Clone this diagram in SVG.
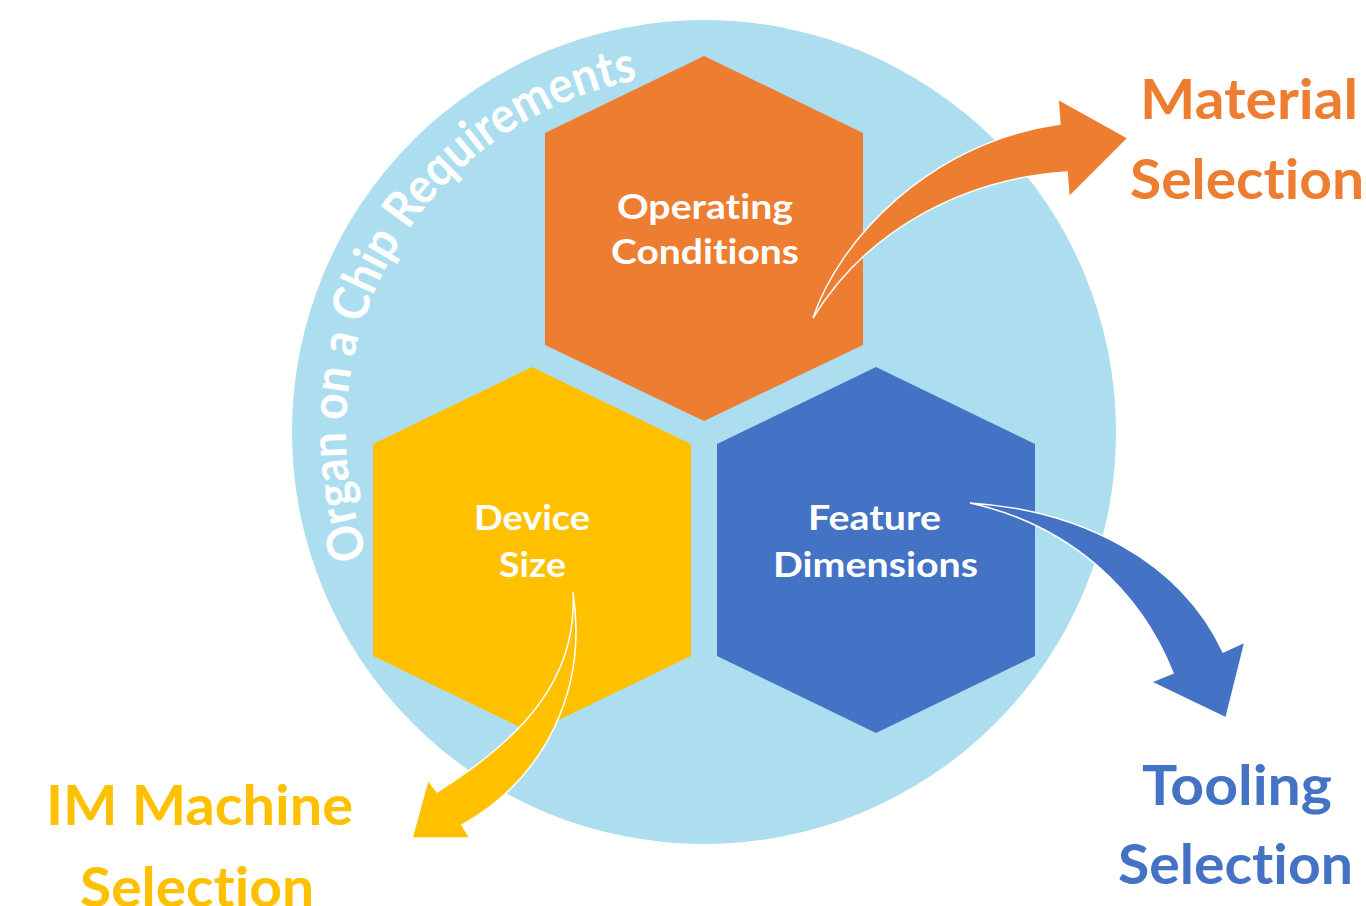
<svg xmlns="http://www.w3.org/2000/svg" width="1366" height="906" viewBox="0 0 1366 906">
<defs>
<style>
text{font-variant-ligatures:none;font-feature-settings:"liga" 0,"clig" 0}
.hex-label{font-family:Lato,"Open Sans","Liberation Sans",sans-serif;font-weight:700;font-size:35px;fill:#ffffff}
.out-label{font-family:Lato,"Open Sans","Liberation Sans",sans-serif;font-weight:700;font-size:56px}
.arrow{stroke:#ffffff;stroke-width:1.5;stroke-linejoin:miter}
</style>
<path id="ringPath" d="M379.5,583.3 A358,358 0 0 1 796.7,86.2" fill="none"/>
</defs>
<rect width="1366" height="906" fill="#ffffff"/>
<g id="circle">
<circle cx="704" cy="432" r="412" fill="#ADDEF0"/>
<text font-family="Lato,'Open Sans','Liberation Sans',sans-serif" font-weight="700" font-size="50" fill="#ffffff"><textPath href="#ringPath" startOffset="30" textLength="622" lengthAdjust="spacingAndGlyphs">Organ on a Chip Requirements</textPath></text>
</g>
<g id="node-operating">
<polygon points="704,56 863,133 863,345 704,421 545,345 545,133" fill="#ED7D31"/>
</g>
<g id="node-device">
<polygon points="532,367 691,444 691,656 532,733 373,656 373,444" fill="#FFC000"/>
</g>
<g id="node-feature">
<polygon points="876,367 1035,444 1035,656 876,733 717,656 717,444" fill="#4472C4"/>
</g>
<g id="connectors">
<path class="arrow" fill="#ED7D31" d="M813,318 C840,238 930,143 1060,124 L1058,99 L1128,138 L1069,197 L1067,172 C970,178 870,225 813,318 Z"/>
<path class="arrow" fill="#4472C4" d="M970,503 C1080,510 1180,560 1223,652 L1245,642 L1226,718 L1151,682 L1173,673 C1140,590 1070,525 970,503 Z"/>
<path class="arrow" fill="#FFC000" d="M573,592 C578,680 520,740 437,792 L428,780 L412,838 L470,838 L462,825 C545,778 588,690 573,592 Z"/>
</g>
<g id="labels-operating">
<text class="hex-label" x="617" y="219" textLength="176" lengthAdjust="spacingAndGlyphs">Operating</text>
<text class="hex-label" x="611" y="264" textLength="188" lengthAdjust="spacingAndGlyphs">Conditions</text>
</g>
<g id="labels-device">
<text class="hex-label" x="474" y="530" textLength="116" lengthAdjust="spacingAndGlyphs">Device</text>
<text class="hex-label" x="499" y="577" textLength="67" lengthAdjust="spacingAndGlyphs">Size</text>
</g>
<g id="labels-feature">
<text class="hex-label" x="808" y="530" textLength="133" lengthAdjust="spacingAndGlyphs">Feature</text>
<text class="hex-label" x="773" y="577" textLength="205" lengthAdjust="spacingAndGlyphs">Dimensions</text>
</g>
<g id="node-material">
<text class="out-label" fill="#ED7D31" x="1140" y="119" textLength="218" lengthAdjust="spacingAndGlyphs">Material</text>
<text class="out-label" fill="#ED7D31" x="1130" y="199" textLength="234" lengthAdjust="spacingAndGlyphs">Selection</text>
</g>
<g id="node-im">
<text class="out-label" fill="#FFC000" x="46" y="825" textLength="307" lengthAdjust="spacingAndGlyphs">IM Machine</text>
<text class="out-label" fill="#FFC000" x="80" y="907" textLength="234" lengthAdjust="spacingAndGlyphs">Selection</text>
</g>
<g id="node-tooling">
<text class="out-label" fill="#4472C4" x="1142" y="805" textLength="190" lengthAdjust="spacingAndGlyphs">Tooling</text>
<text class="out-label" fill="#4472C4" x="1118" y="884" textLength="235" lengthAdjust="spacingAndGlyphs">Selection</text>
</g>
</svg>
